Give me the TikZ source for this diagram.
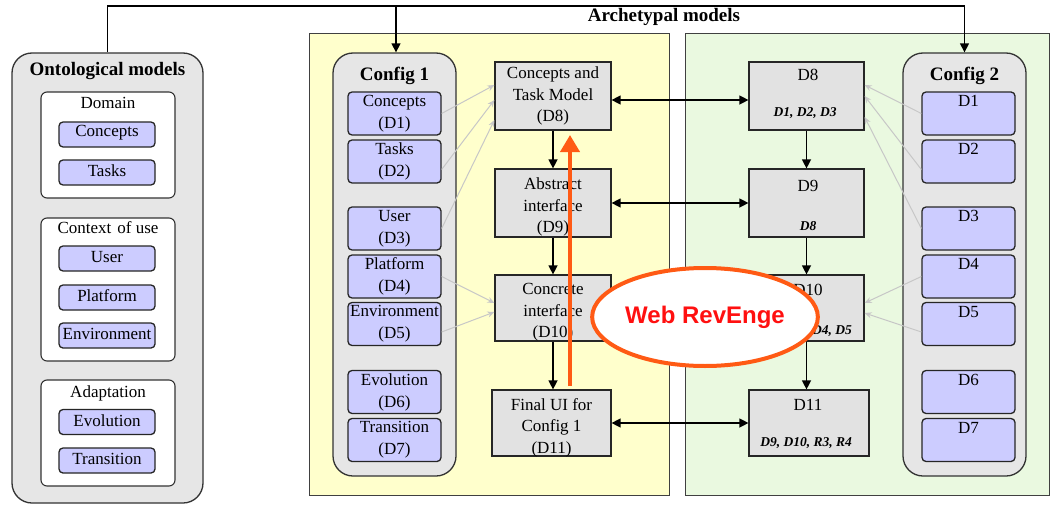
\documentclass[tikz,border=0pt]{standalone}
\usepackage{fontspec}
\setmainfont{Liberation Serif}
\setsansfont{Liberation Sans}
\usetikzlibrary{arrows.meta,shapes.geometric}
\definecolor{panelgray}{HTML}{E6E6E6}
\definecolor{lavbox}{HTML}{CCCCFF}
\definecolor{zoneyellow}{HTML}{FFFFCC}
\definecolor{zonegreen}{HTML}{EAF9E0}
\definecolor{boxgray}{HTML}{E2E2E2}
\definecolor{revorange}{HTML}{FF5A14}
\definecolor{revred}{HTML}{FF1010}
\begin{document}
\begin{tikzpicture}[x=1pt,y=-1pt,
  panel/.style={draw=black!80,line width=1.3pt,fill=panelgray,rounded corners=20pt,inner sep=0pt},
  subbox/.style={draw=black!80,line width=1.1pt,fill=white,rounded corners=6pt,inner sep=0pt,minimum width=134pt},
  lav/.style={draw=black!85,line width=1.3pt,fill=lavbox,rounded corners=4pt,inner sep=0pt,minimum height=25pt,minimum width=96pt},
  cbox/.style={draw=black!85,line width=1.3pt,fill=lavbox,rounded corners=4pt,inner sep=0pt,minimum height=43pt,minimum width=93pt},
  zonebox/.style={draw=black!75,line width=1pt,inner sep=0pt,minimum height=462pt},
  midbox/.style={draw=black!85,line width=1.2pt,fill=boxgray,inner sep=0pt},
  txt/.style={font=\fontsize{17}{21.5}\selectfont,align=center,inner sep=0pt},
  twoline/.style={font=\fontsize{17}{22}\selectfont,align=center},
  ttl/.style={font=\bfseries\fontsize{19}{22}\selectfont,inner sep=0pt,anchor=base},
  itnote/.style={font=\bfseries\itshape\fontsize{13.5}{16}\selectfont,inner sep=0pt},
  link/.style={line width=1.3pt,-{Triangle[length=9pt,width=9pt]}},
  duplex/.style={line width=1.3pt,{Triangle[length=9pt,width=9pt]}-{Triangle[length=9pt,width=9pt]}},
  feedarrow/.style={draw=black!22,line width=1pt,-{Stealth[length=7pt,width=6pt]}},
  revarrow/.style={draw=revorange,line width=4pt,-{Triangle[length=17pt,width=19pt]}},
]
\useasboundingbox (0,0) rectangle (1052,506);
\fill[white] (0,0) rectangle (1052,506);

% the two configuration zones
\node[zonebox,fill=zoneyellow,minimum width=360pt] (zone1) at (489,264) {};
\node[zonebox,fill=zonegreen,minimum width=364pt] (zone2) at (867,264) {};
\node[ttl] (arch) at (664,21) {Archetypal models};

% ontological models
\node[panel,minimum width=191pt,minimum height=450pt] (onto) at (107.5,278) {};
\node[ttl] (ontoT) at (107.5,75) {Ontological models};

\node[subbox,minimum height=106pt] (dom) at (108,145) {};
\node[txt,anchor=base] (domT) at (108,108) {Domain};
\node[lav] (oc) at (107,134.5) {};
\node[txt] (ocT) at (107,133) {Concepts};
\node[lav] (ot) at (107,172.5) {};
\node[txt] (otT) at (107,171) {Tasks};

\node[subbox,minimum height=143pt] (ctx) at (108,289.5) {};
\node[txt,anchor=base] (ctxT) at (108,233) {Context\hspace{6pt}of use};
\node[lav] (ou) at (107,258.5) {};
\node[txt] (ouT) at (107,257) {User};
\node[lav] (op) at (107,297.5) {};
\node[txt] (opT) at (107,296) {Platform};
\node[lav] (oe) at (107,335.5) {};
\node[txt] (oeT) at (107,334) {Environment};

\node[subbox,minimum height=106pt] (adp) at (108,433) {};
\node[txt,anchor=base] (adpT) at (108,397) {Adaptation};
\node[lav] (oev) at (107,422) {};
\node[txt] (oevT) at (107,420.5) {Evolution};
\node[lav] (otr) at (107,460.5) {};
\node[txt] (otrT) at (107,459) {Transition};

% configuration 1
\node[panel,minimum width=123pt,minimum height=423pt] (cfg1) at (394.5,264.5) {};
\node[ttl] (cfg1T) at (394.5,80) {Config 1};
\node[cbox,twoline] (a1) at (394.5,113.5) {Concepts\\(D1)};
\node[cbox,twoline] (a2) at (394.5,161.5) {Tasks\\(D2)};
\node[cbox,twoline] (a3) at (394.5,228.5) {User\\(D3)};
\node[cbox,twoline] (a4) at (394.5,276.5) {Platform\\(D4)};
\node[cbox,twoline] (a5) at (394.5,324) {Environment\\(D5)};
\node[cbox,twoline] (a6) at (394.5,392) {Evolution\\(D6)};
\node[cbox,twoline] (a7) at (394.5,440) {Transition\\(D7)};

% configuration 2
\node[panel,minimum width=123pt,minimum height=423pt] (cfg2) at (964.5,264.5) {};
\node[ttl] (cfg2T) at (964.5,80) {Config 2};
\foreach \k/\yy in {1/113.5,2/161.5,3/228.5,4/276.5,5/324,6/392,7/440}{
  \node[cbox] (b\k) at (968.5,\yy) {};
  \node[txt] (b\k T) at ([yshift=-10pt]b\k.north) {D\k};
}

% models derived for configuration 1
\node[midbox,minimum width=116pt,minimum height=68pt] (m8) at (553,96) {};
\node[txt] (m8T) at (553,96) {Concepts and\\Task Model\\(D8)};
\node[midbox,minimum width=116pt,minimum height=68pt] (m9) at (553,203) {};
\begin{scope}
  \clip ([shift={(0.6pt,0.6pt)}]m9.south west) rectangle ([shift={(-0.6pt,-0.6pt)}]m9.north east);
  \node[txt] (m9T) at (553,207) {Abstract\\interface\\(D9)};
\end{scope}
\node[midbox,minimum width=116pt,minimum height=66pt] (m10) at (553,308) {};
\begin{scope}
  \clip ([shift={(0.6pt,0.6pt)}]m10.south west) rectangle ([shift={(-0.6pt,-0.6pt)}]m10.north east);
  \node[txt] (m10T) at (553,312.5) {Concrete\\interface\\(D10)};
\end{scope}
\node[midbox,minimum width=119pt,minimum height=66pt] (m11) at (551.5,423) {};
\begin{scope}
  \clip ([shift={(0.6pt,0.6pt)}]m11.south west) rectangle ([shift={(-0.6pt,-0.6pt)}]m11.north east);
  \node[txt] (m11T) at (551.5,427.5) {Final UI for\\Config 1\\(D11)};
\end{scope}

% models derived for configuration 2
\node[midbox,minimum width=115pt,minimum height=68pt] (r8) at (806.5,96) {};
\node[txt] (r8T) at (808,75) {D8};
\node[itnote] (r8N) at (805,113) {D1, D2, D3};
\node[midbox,minimum width=115pt,minimum height=68pt] (r9) at (806.5,203) {};
\node[txt] (r9T) at (808,186) {D9};
\node[itnote] (r9N) at (808,226) {D8};
\node[midbox,minimum width=115pt,minimum height=66pt] (r10) at (806.5,308) {};
\node[txt] (r10T) at (808,290) {D10};
\node[itnote,anchor=east] (r10N) at (852,331) {D9, D4, D5};
\node[midbox,minimum width=120pt,minimum height=66pt] (r11) at (809,423) {};
\node[txt] (r11T) at (808,405) {D11};
\node[itnote] (r11N) at (806,443) {D9, D10, R3, R4};

% derivation links from the configurations
\draw[feedarrow] (a1.east) -- ([yshift=11pt]m8.west);
\draw[feedarrow] ([yshift=-8pt]a2.east) -- ([yshift=-4pt]m8.west);
\draw[feedarrow] (a3.east) -- ([yshift=-24pt]m8.west);
\draw[feedarrow] (a4.east) -- ([yshift=5pt]m10.west);
\draw[feedarrow] ([yshift=-8pt]a5.east) -- ([yshift=-4pt]m10.west);
\draw[feedarrow] (b1.west) -- ([yshift=11pt]r8.east);
\draw[feedarrow] ([yshift=-8pt]b2.west) -- (r8.east);
\draw[feedarrow] (b3.west) -- ([yshift=-21pt]r8.east);
\draw[feedarrow] (b4.west) -- ([yshift=5pt]r10.east);
\draw[feedarrow] ([yshift=-8pt]b5.west) -- ([yshift=-5pt]r10.east);

% refinement chains
\draw[link] (m8.south) -- (m9.north);
\draw[link] (m9.south) -- (m10.north);
\draw[link] (m10.south) -- (m10.south |- m11.north);
\draw[link] (r8.south) -- (r9.north);
\draw[link] (r9.south) -- (r10.north);
\draw[link] (r10.south) -- (r10.south |- r11.north);

% correspondences between the two configurations
\draw[duplex] ([yshift=-4pt]m8.east) -- ([yshift=-4pt]r8.west);
\draw[duplex] (m9.east) -- (r9.west);
\draw[duplex] (m11.east) -- (m11.east -| r11.west);

% archetypal models fed from the ontological models
\coordinate (topbend) at (396,6);
\draw[link] (onto.north) |- (topbend) -| (cfg2.north);
\draw[link] (topbend) -- (topbend |- cfg1.north);

% reverse engineering
\coordinate (revS) at (570,386);
\coordinate (revE) at (570,135);
\draw[revarrow] (revS) -- (revE);
\node[ellipse,draw=revorange,line width=4pt,fill=white,minimum width=210pt,minimum height=98pt,inner sep=0pt,
      font=\sffamily\bfseries\fontsize{24}{28}\selectfont,text=revred] (webre) at (705,317) {Web RevEnge};
\end{tikzpicture}
\end{document}
